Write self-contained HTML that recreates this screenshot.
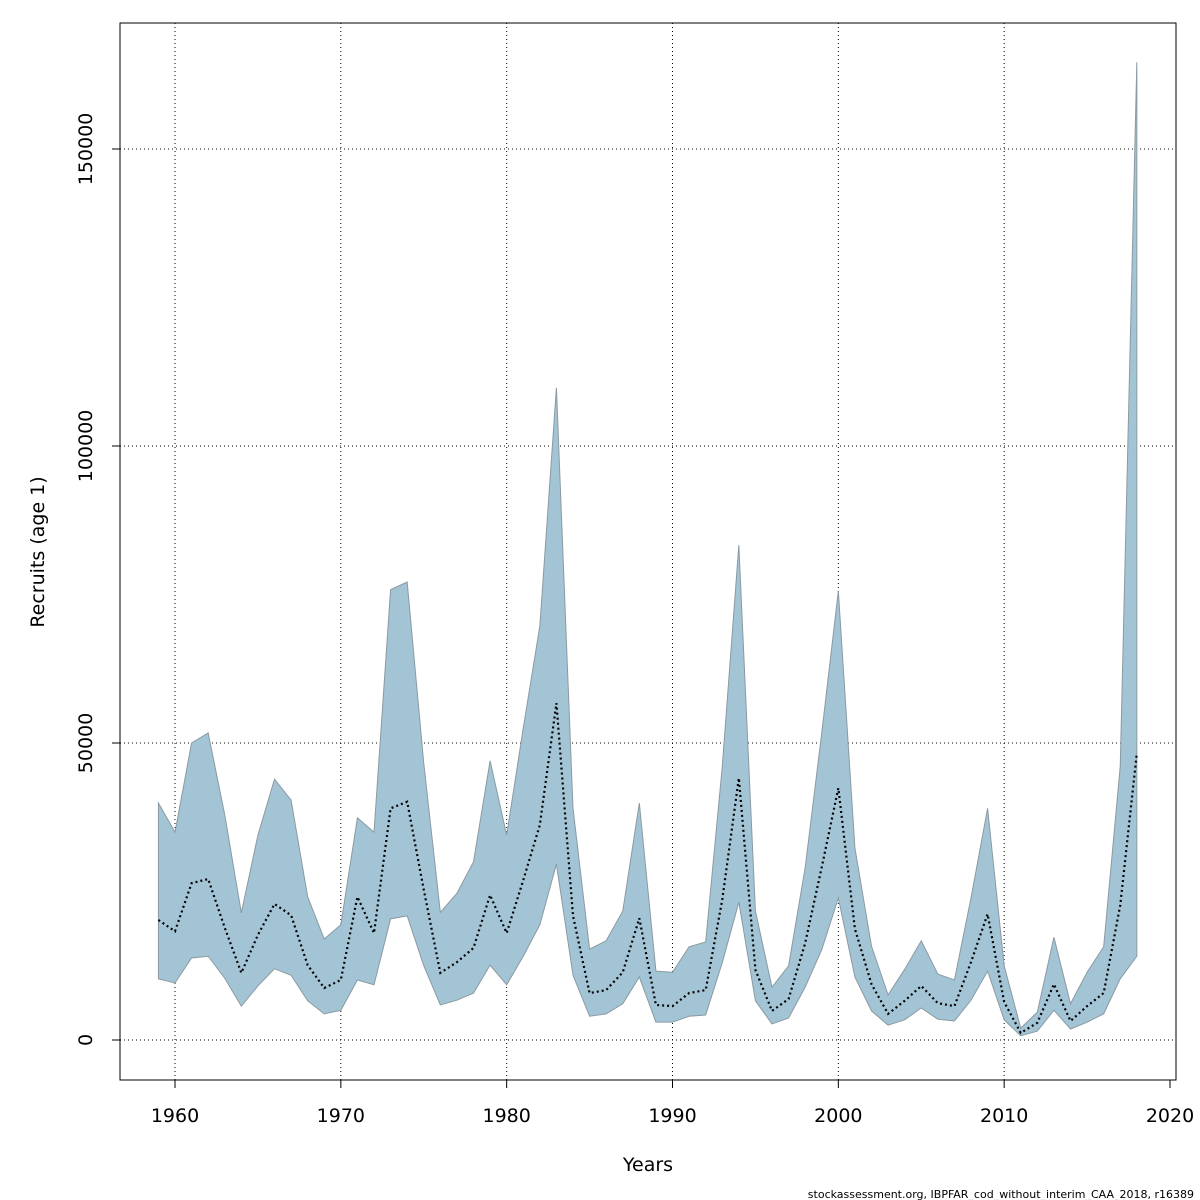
<!DOCTYPE html>
<html><head><meta charset="utf-8"><style>
html,body{margin:0;padding:0;background:#fff;}
svg{display:block;font-family:"DejaVu Sans","Liberation Sans",sans-serif;}
</style></head><body>
<svg id="chart" width="1200" height="1200" viewBox="0 0 1200 1200" xmlns="http://www.w3.org/2000/svg">
<rect x="0" y="0" width="1200" height="1200" fill="#fff"/>
<g id="grid"></g>
<g id="band"></g>
<g id="axes"></g>
<rect x="120" y="23" width="1056" height="1057" fill="none" stroke="#000" stroke-width="1"/>
<text x="648" y="1171" font-size="19" text-anchor="middle">Years</text>
<text transform="translate(44,552) rotate(-90)" font-size="19" text-anchor="middle">Recruits (age 1)</text>
<text x="1194" y="1198" font-size="11" text-anchor="end">stockassessment.org, IBPFAR_cod_without_interim_CAA_2018, r16389</text>
</svg>
<script>
const years = [];
for (let y = 1959; y <= 2018; y++) years.push(y);
const upper = [39900,35000,50000,51700,37900,21400,34500,43900,40400,24100,17000,19400,37400,35000,75800,77100,46600,21500,24700,30000,47000,34500,52500,69700,109800,39000,15300,16700,21700,39900,11600,11400,15700,16500,46000,83300,21700,8900,12500,29000,51700,75600,32300,15800,7600,11900,16700,11100,10100,23900,39000,12500,2000,4700,17300,6100,11400,15700,46100,164600];
const mid = [20200,18300,26400,27100,18900,11300,17700,22900,21000,12600,8750,10100,24100,18000,39000,40100,25300,11300,13100,15500,24400,18000,26900,36200,56700,20900,7900,8400,11400,20500,5900,5700,7900,8400,23600,44100,11800,4900,6900,16300,29100,42400,18700,9400,4400,6600,9100,6200,5700,13100,21200,6400,1200,2900,9400,3200,5700,7900,22700,48300];
const lower = [10300,9600,13800,14100,10400,5700,9100,12000,10900,6600,4400,5000,10100,9300,20400,20900,12500,5900,6700,7900,12600,9300,14100,19400,29600,10900,4000,4400,6100,10600,3000,3000,4000,4200,13000,23200,6600,2700,3700,8900,15200,23900,10600,4900,2500,3400,5400,3500,3200,6700,11600,3400,700,1500,5000,1850,3000,4400,10300,14100];
const xTicks = [1960,1970,1980,1990,2000,2010,2020];
const yTicks = [0,50000,100000,150000];

const NS = "http://www.w3.org/2000/svg";
const X = y => 175 + (y - 1960) * (995 / 60);
const Y = v => 1040 - v * (297 / 50000);
function mk(tag, attrs, parent){const e=document.createElementNS(NS,tag);for(const k in attrs)e.setAttribute(k,attrs[k]);parent.appendChild(e);return e;}
const grid=document.getElementById('grid'),band=document.getElementById('band'),axes=document.getElementById('axes');

xTicks.forEach(t=>{
  if (t<=2010){const l=mk('line',{x1:X(t),x2:X(t),y1:23,y2:1080,stroke:'#000','stroke-width':1,'stroke-dasharray':'1,3'},grid);
  
  }
  const tk=mk('line',{x1:X(t),x2:X(t),y1:1080,y2:1088,stroke:'#000'},axes);
  
  
  const tx=mk('text',{x:X(t),y:1122,'font-size':19,'text-anchor':'middle'},axes);tx.textContent=t;
  
  
});
yTicks.forEach(t=>{
  const l=mk('line',{x1:120,x2:1176,y1:Y(t),y2:Y(t),stroke:'#000','stroke-width':1,'stroke-dasharray':'1,3'},grid);
  
  
  const tk=mk('line',{x1:112,x2:120,y1:Y(t),y2:Y(t),stroke:'#000'},axes);
  
  
  const tx=mk('text',{transform:`translate(92,${Y(t)}) rotate(-90)`,'font-size':19,'text-anchor':'middle'},axes);tx.textContent=t;
  
  
});

let pts=years.map((y,i)=>X(y)+','+Y(upper[i]));
for(let i=years.length-1;i>=0;i--)pts.push(X(years[i])+','+Y(lower[i]));
const poly=mk('polygon',{points:pts.join(' '),fill:'#a3c4d5',stroke:'#8a9aa3','stroke-width':1},band);


const line=mk('polyline',{points:years.map((y,i)=>X(y)+','+Y(mid[i])).join(' '),fill:'none',stroke:'#000','stroke-width':2.2,'stroke-dasharray':'2,3'},band);


</script>
</body></html>
